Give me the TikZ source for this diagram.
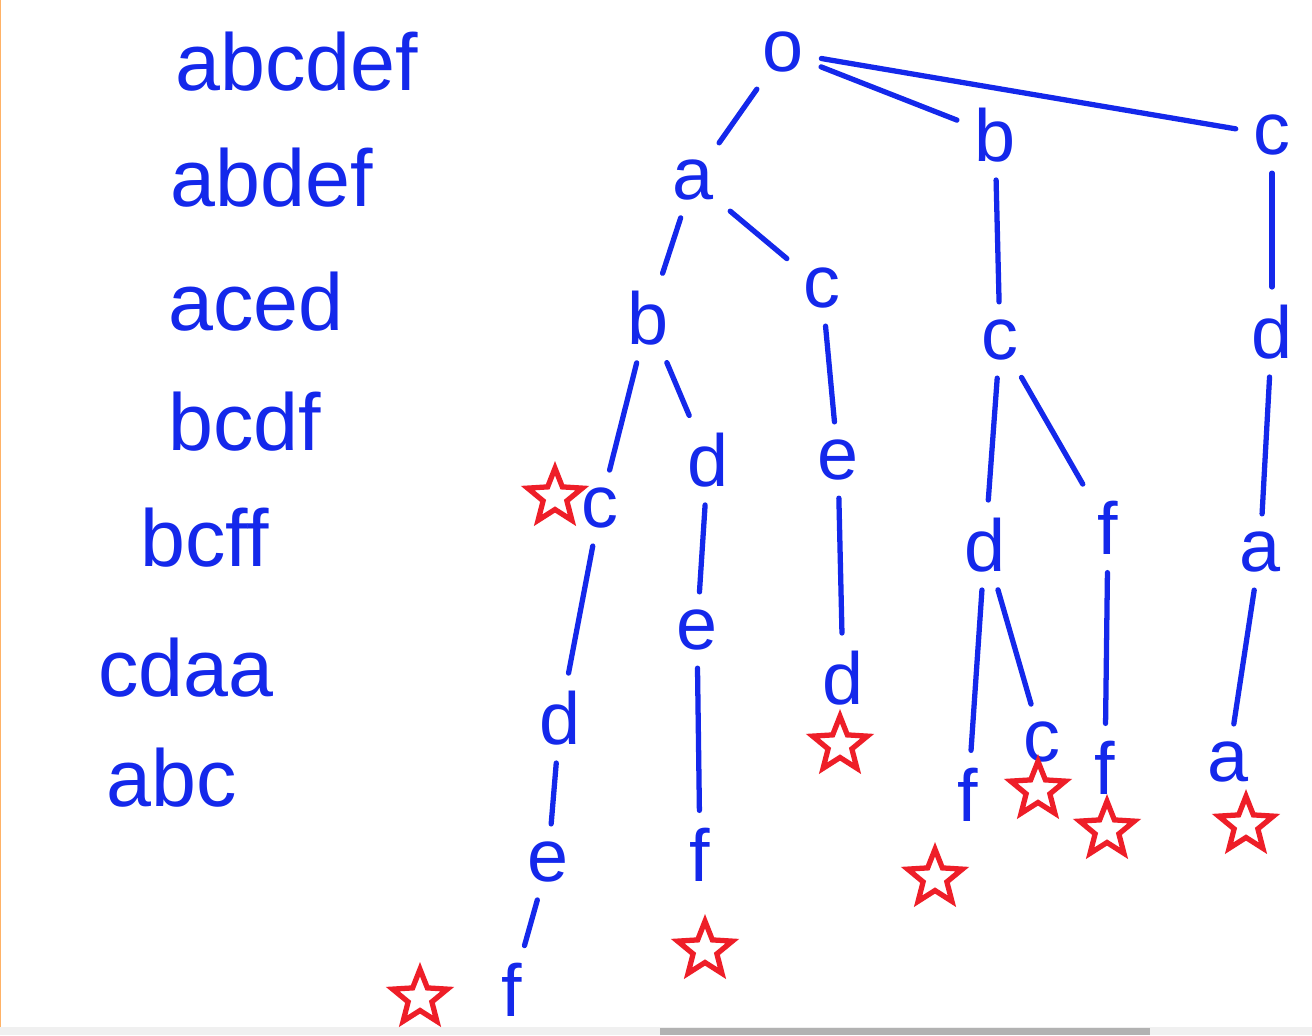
\documentclass[tikz,border=0pt]{standalone}
\usepackage{fontspec}
\setmainfont{Liberation Sans}
\usetikzlibrary{shapes.geometric}
\definecolor{ink}{RGB}{20,40,235}
\definecolor{markred}{RGB}{238,30,40}

\begin{document}
\begin{tikzpicture}[x=0.02cm, y=-0.02cm,
                   letter/.style={text=ink, font=\fontsize{42}{42}\selectfont, inner sep=7pt},
                   word/.style={text=ink, font=\fontsize{46}{46}\selectfont, anchor=west, inner sep=0pt},
                   branch/.style={draw=ink, line width=3pt, line cap=round, shorten <=3pt, shorten >=3pt},
                   endmark/.style={star, star points=5, star point ratio=2.3, draw=markred, line width=3pt, minimum size=1.15cm, inner sep=0pt}]
          \useasboundingbox[fill=white] (0,0) rectangle (1312,1035);
          % scroll bar
          \fill[black!6] (0,1027) rectangle (1312,1035);
          \fill[black!30] (660,1028) rectangle (1150,1035);
          \draw[orange!60, line width=1pt] (0.5,0) -- (0.5,1027);
          % words
          \node[word] (w1) at (175,62) {abcdef};
          \node[word] (w2) at (170,178) {abdef};
          \node[word] (w3) at (168,302) {aced};
          \node[word] (w4) at (168,422) {bcdf};
          \node[word] (w5) at (140,538) {bcff};
          \node[word] (w6) at (98,668) {cdaa};
          \node[word] (w7) at (106,778) {abc};
          % trie
          \node[letter] (root) at (783,52) {o};
          \node[letter] (na) at (693,180) {a};
          \node[letter] (nb) at (995,135) {b};
          \node[letter] (nc) at (1272,135) {c};
          \node[letter] (nab) at (648,318) {b};
          \node[letter] (nac) at (822,288) {c};
          \node[letter] (nbc) at (1000,340) {c};
          \node[letter] (ncd) at (1272,332) {d};
          \node[letter] (nabc) at (600,508) {c};
          \node[letter] (nabd) at (708,460) {d};
          \node[letter] (nace) at (838,460) {e};
          \node[letter] (nbcd) at (985,545) {d};
          \node[letter] (nbcf) at (1108,528) {f};
          \node[letter] (ncda) at (1260,552) {a};
          \node[letter] (nabcd) at (560,718) {d};
          \node[letter] (nabde) at (697,630) {e};
          \node[letter] (naced) at (843,678) {d};
          \node[letter] (nbcdf) at (968,795) {f};
          \node[letter] (nbcdc) at (1042,742) {c};
          \node[letter] (nbcff) at (1105,768) {f};
          \node[letter] (ncdaa) at (1228,762) {a};
          \node[letter] (nabcde) at (548,862) {e};
          \node[letter] (nabdef) at (700,855) {f};
          \node[letter] (nabcdef) at (512,990) {f};
          \draw[branch] (root) -- (na);
          \draw[branch] (root) -- (nb);
          \draw[branch] (root) -- (nc);
          \draw[branch] (na) -- (nab);
          \draw[branch] (na) -- (nac);
          \draw[branch] (nb) -- (nbc);
          \draw[branch] (nc) -- (ncd);
          \draw[branch] (nab) -- (nabc);
          \draw[branch] (nab) -- (nabd);
          \draw[branch] (nac) -- (nace);
          \draw[branch] (nbc) -- (nbcd);
          \draw[branch] (nbc) -- (nbcf);
          \draw[branch] (ncd) -- (ncda);
          \draw[branch] (nabc) -- (nabcd);
          \draw[branch] (nabd) -- (nabde);
          \draw[branch] (nace) -- (naced);
          \draw[branch] (nbcd) -- (nbcdf);
          \draw[branch] (nbcd) -- (nbcdc);
          \draw[branch] (nbcf) -- (nbcff);
          \draw[branch] (ncda) -- (ncdaa);
          \draw[branch] (nabcd) -- (nabcde);
          \draw[branch] (nabde) -- (nabdef);
          \draw[branch] (nabcde) -- (nabcdef);
          % word ends
          \node[endmark] (sabc) at (555,497) {};
          \node[endmark] (saced) at (840,745) {};
          \node[endmark] (sbcdf) at (935,878) {};
          \node[endmark] (sbcdc) at (1038,790) {};
          \node[endmark] (sbcff) at (1107,830) {};
          \node[endmark] (scdaa) at (1246,825) {};
          \node[endmark] (sabdef) at (705,950) {};
          \node[endmark] (sabcdef) at (420,998) {};
        \end{tikzpicture}
\end{document}
